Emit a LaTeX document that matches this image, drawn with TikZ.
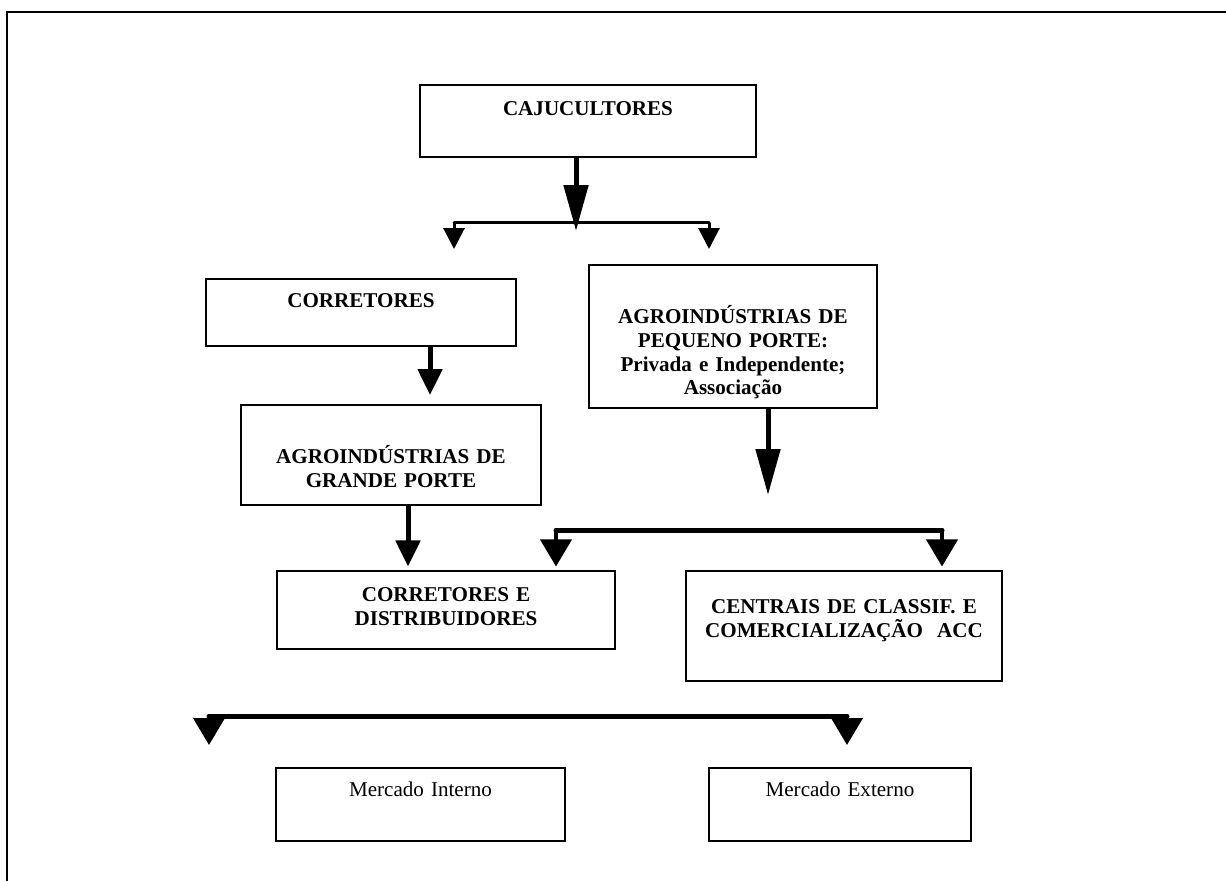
\documentclass[tikz,border=0pt]{standalone}
\usepackage{fontspec}
\setmainfont{Liberation Serif}
\usetikzlibrary{arrows.meta}
\tikzset{
  box/.style={draw, line width=0.04cm, align=center, inner xsep=0pt, inner ysep=0pt,
    anchor=north west, font=\fontsize{12}{13.4}\selectfont\bfseries},
  plainbox/.style={box, font=\fontsize{12}{13.4}\selectfont},
  bigarrow/.style={line width=0.1cm, -{Triangle[length=0.92cm,width=0.48cm]}},
  midarrow/.style={line width=0.1cm, -{Triangle[length=0.52cm,width=0.48cm]}},
  smallarrow/.style={line width=0.06cm, -{Triangle[length=0.42cm,width=0.42cm]}},
  widearrow/.style={line width=0.08cm, -{Triangle[length=0.54cm,width=0.62cm]}},
  thinbar/.style={line width=0.06cm, line cap=round},
  thickbar/.style={line width=0.1cm, line cap=round}
}
\begin{document}
\begin{tikzpicture}[x=0.02cm,y=-0.02cm]
    \useasboundingbox (0,0) rectangle (1226,881);
    % moldura
    \draw [line width=0.04cm] (1230,12) -- (7,12) -- (7,885);

    % caixas
    \node [box, text width=6.72cm, text height=0.62cm, text depth=0.82cm] (caju) at (419,84) {CAJUCULTORES};
    \node [box, text width=6.2cm, text height=0.58cm, text depth=0.76cm] (corr) at (205,278) {CORRETORES};
    \node [box, text width=6cm, text height=1.18cm, text depth=0.82cm] (grande) at (240,404) {AGROIND\'USTRIAS DE\\GRANDE PORTE};
    \node [box, text width=5.76cm, text height=1.18cm, text depth=1.68cm] (pequeno) at (588,264) {AGROIND\'USTRIAS DE\\PEQUENO PORTE:\\Privada e Independente;\\Associa\c{c}\~ao};
    \node [box, text width=6.76cm, text height=0.62cm, text depth=0.94cm] (dist) at (276,570) {CORRETORES E\\DISTRIBUIDORES};
    \node [box, text width=6.32cm, text height=0.86cm, text depth=1.34cm] (centrais) at (685,570) {CENTRAIS DE CLASSIF. E\\COMERCIALIZA\c{C}\~AO\ \ ACC};
    \node [plainbox, text width=5.78cm, text height=0.56cm, text depth=0.9cm] (interno) at (275,767) {Mercado Interno};
    \node [plainbox, text width=5.24cm, text height=0.56cm, text depth=0.9cm] (externo) at (708,767) {Mercado Externo};

    % pontos das setas
    \coordinate (s1) at (576,231);
    \coordinate (b1l) at (454,223);
    \coordinate (b1r) at (709,223);
    \coordinate (t1l) at (454,249);
    \coordinate (t1r) at (709,249);
    \coordinate (s2) at (430,395);
    \coordinate (s3) at (408,0);
    \coordinate (s4) at (768,495);
    \coordinate (b2l) at (556,530);
    \coordinate (b2r) at (942,530);
    \coordinate (b3l) at (209,716);
    \coordinate (b3r) at (847,716);
    \coordinate (t3l) at (209,745);
    \coordinate (t3r) at (847,745);

    % ligacoes
    \draw [bigarrow] (caju.south -| s1) -- (s1);
    \draw [thinbar] (b1l) -- (b1r);
    \draw [smallarrow] (b1l) -- (t1l);
    \draw [smallarrow] (b1r) -- (t1r);
    \draw [midarrow] (corr.south -| s2) -- (s2);
    \draw [midarrow] (grande.south -| s3) -- ([yshift=2pt]dist.north -| s3);
    \draw [bigarrow] (pequeno.south -| s4) -- (s4);
    \draw [thickbar] (b2l) -- (b2r);
    \draw [widearrow] (b2l) -- ([yshift=2pt]dist.north -| b2l);
    \draw [widearrow] (b2r) -- ([yshift=2pt]centrais.north -| b2r);
    \draw [thickbar] (b3l) -- (b3r);
    \draw [widearrow] (b3l) -- (t3l);
    \draw [widearrow] (b3r) -- (t3r);
\end{tikzpicture}
\end{document}
